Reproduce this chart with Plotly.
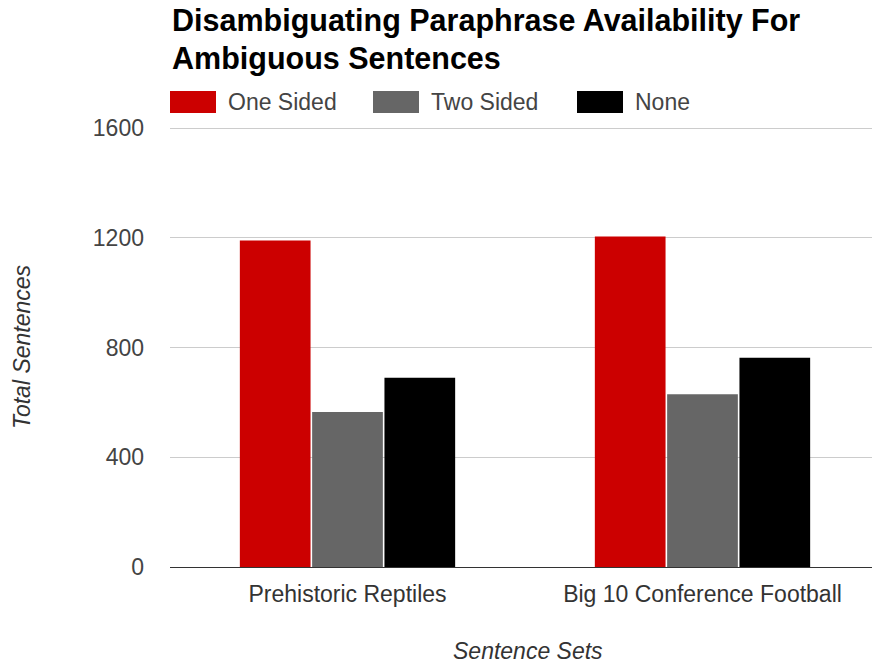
import plotly.graph_objects as go

# Sentence sets and counts of ambiguous sentences by paraphrase availability
categories = ["Prehistoric Reptiles", "Big 10 Conference Football"]
series_names = ["One Sided", "Two Sided", "None"]
one_sided = [1190, 1205]
two_sided = [565, 630]
none_avail = [690, 763]
series_values = [one_sided, two_sided, none_avail]
series_colors = ["#cc0000", "#666666", "#000000"]
y_ticks = [0, 400, 800, 1200, 1600]

W, H = 872, 667
L, R, T, B = 170, 0, 124, 100
PW, PH = W - L - R, H - T - B
# 1600 sits at y=128px, 0 at y=567px; a little headroom keeps the top gridline visible
Y_TOP = 1600 * PH / (567 - 128)


def px(x):
    return (x - L) / PW


def py(y):
    return (H - B - y) / PH


FONT = "Liberation Sans, Arial, sans-serif"

fig = go.Figure()
for name, vals, col in zip(series_names, series_values, series_colors):
    fig.add_trace(go.Bar(
        x=categories, y=vals, name=name,
        marker=dict(color=col, line=dict(width=0)),
        showlegend=False,
    ))

# Hand-drawn legend row with wide colour swatches
legend_box_x = [170, 373, 577]
shapes = []
annotations = []
for name, col, x0 in zip(series_names, series_colors, legend_box_x):
    shapes.append(dict(type="rect", xref="paper", yref="paper",
                       x0=px(x0), x1=px(x0 + 46), y0=py(113), y1=py(91),
                       fillcolor=col, line=dict(width=0)))
    annotations.append(dict(text=name, xref="paper", yref="paper",
                            x=px(x0 + 56), y=py(102), xanchor="left", yanchor="middle",
                            showarrow=False, font=dict(family=FONT, size=23, color="#444")))

# Two-line bold title
for line, yc in [("Disambiguating Paraphrase Availability For", 21),
                 ("Ambiguous Sentences", 59)]:
    annotations.append(dict(text="<b>" + line + "</b>", xref="paper", yref="paper",
                            x=px(170), y=py(yc), xanchor="left", yanchor="middle",
                            showarrow=False, font=dict(family=FONT, size=30.5, color="#000")))

# Axis titles
annotations.append(dict(text="<i>Total Sentences</i>", xref="paper", yref="paper",
                        x=px(22), y=py(347), xanchor="center", yanchor="middle",
                        textangle=-90, showarrow=False,
                        font=dict(family=FONT, size=23, color="#333")))
annotations.append(dict(text="<i>Sentence Sets</i>", xref="paper", yref="paper",
                        x=px(528), y=py(651), xanchor="center", yanchor="middle",
                        showarrow=False, font=dict(family=FONT, size=23, color="#333")))

fig.update_layout(
    width=W, height=H,
    margin=dict(l=L, r=R, t=T, b=B, pad=0),
    paper_bgcolor="white", plot_bgcolor="white",
    barmode="group", bargap=0.389, bargroupgap=0.022,
    shapes=shapes, annotations=annotations,
    font=dict(family=FONT, size=23, color="#444"),
)
fig.update_xaxes(
    range=[-0.5, -0.5 + PW / 355.0],
    showgrid=False, showline=False, ticks="",
    tickfont=dict(family=FONT, size=23, color="#333"),
    ticklabelstandoff=11,
)
fig.update_yaxes(
    range=[0, Y_TOP], tickvals=y_ticks,
    showgrid=True, gridcolor="#cccccc", gridwidth=1,
    zeroline=True, zerolinecolor="#333333", zerolinewidth=1,
    showline=False, ticks="",
    tickfont=dict(family=FONT, size=23, color="#444"),
    ticklabelstandoff=25,
)

fig.write_html("out.html")
